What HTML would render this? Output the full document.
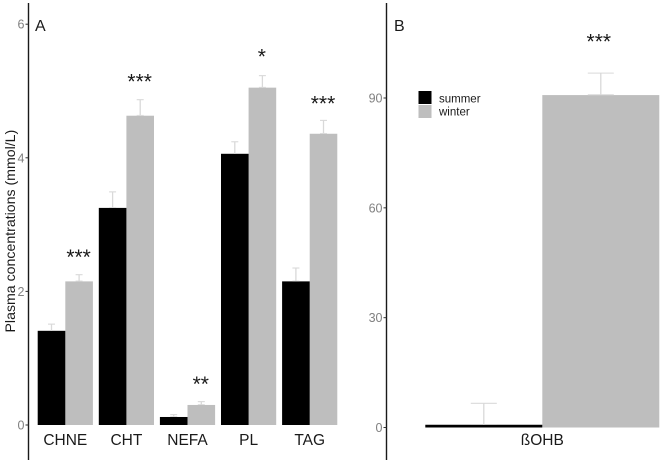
<!DOCTYPE html>
<html>
<head>
<meta charset="utf-8">
<style>
html,body{margin:0;padding:0;background:#fff;width:660px;height:462px;overflow:hidden}
svg{display:block;font-family:"Liberation Sans",sans-serif}
</style>
</head>
<body>
<svg id="chart" width="660" height="462" viewBox="0 0 660 462" xmlns="http://www.w3.org/2000/svg">
<text transform="translate(15,332.5) rotate(-90)" font-size="14.15" fill="#1a1a1a">Plasma concentrations (mmol/L)</text>
<text x="35" y="31" font-size="16" fill="#1a1a1a">A</text>
<text x="394" y="31" font-size="16" fill="#1a1a1a">B</text>
<rect x="418.5" y="91" width="13" height="13" fill="#000"/>
<rect x="418.5" y="105" width="13" height="13" fill="#bebebe"/>
<text x="439" y="102.5" font-size="11.5" fill="#1a1a1a">summer</text>
<text x="439" y="115.5" font-size="11.5" fill="#1a1a1a">winter</text>
</svg>
<script>
const categoriesA = ['CHNE', 'CHT', 'NEFA', 'PL', 'TAG'];
const summerA = [1.41, 3.25, 0.12, 4.06, 2.15];
const winterA = [2.15, 4.63, 0.30, 5.05, 4.36];
const summerErrA = [1.51, 3.49, 0.155, 4.24, 2.35];
const winterErrA = [2.25, 4.87, 0.35, 5.23, 4.56];
const sigA = ['***', '***', '**', '*', '***'];
const sigValueA = [2.545, 5.17, 0.645, 5.545, 4.84];
const ticksA = [0, 2, 4, 6];
const categoriesB = ['\u00dfOHB'];
const summerB = [0.75];
const winterB = [90.8];
const summerErrB = [6.6];
const winterErrB = [96.8];
const sigB = ['***'];
const sigValueB = [106];
const ticksB = [0, 30, 60, 90];

const svg = document.getElementById('chart');
const NS = 'http://www.w3.org/2000/svg';
function add(tag, attrs, text) {
  const el = document.createElementNS(NS, tag);
  for (const k in attrs) el.setAttribute(k, attrs[k]);
  if (text !== undefined) el.textContent = text;
  svg.insertBefore(el, svg.firstChild);
  return el;
}
function yA(v) { return 425 - v * 66.8; }
function yB(v) { return 427.5 - v * 3.661; }
function xA(i) { return 65.3 + i * 61.1; }
function xB(i) { return 542.3 + i * 234; }

function drawPanel(opts) {
  const { cats, summer, winter, errS, errW, sig, sigV, ticks, y, x, barW, capW, axisX, panel, labelSize } = opts;
  cats.forEach(function (c, i) {
    const cx = x(i);
    const base = y(0);
    [[summer[i], errS[i], cx - barW / 2, 'summer'], [winter[i], errW[i], cx + barW / 2, 'winter']].forEach(function (d) {
      const stem = add('line', { x1: d[2], x2: d[2], y1: y(d[0]), y2: y(d[1]), stroke: '#d9d9d9', 'stroke-width': 1.3 });
      
      
      const cap = add('line', { x1: d[2] - capW / 2, x2: d[2] + capW / 2, y1: y(d[1]), y2: y(d[1]), stroke: '#d9d9d9', 'stroke-width': 1.1 });
      
      
      const lowCap = add('line', { x1: d[2] - capW / 2, x2: d[2] + capW / 2, y1: y(d[0]) - 0.4, y2: y(d[0]) - 0.4, stroke: '#d9d9d9', 'stroke-width': 0.8 });
      
      
    });
    const s = add('rect', { x: cx - barW, y: y(summer[i]), width: barW, height: base - y(summer[i]), fill: '#000' });
    
    
    const w = add('rect', { x: cx, y: y(winter[i]), width: barW, height: base - y(winter[i]), fill: '#bebebe' });
    
    
    const lab = add('text', { x: cx, y: 445, 'text-anchor': 'middle', 'font-size': labelSize, fill: '#1a1a1a' }, c);
    
    
    const starX = panel === 'a' ? cx + barW / 2 - 0.5 : cx + barW / 2 - 2;
    const st = add('text', { x: starX, y: y(sigV[i]) + 9, 'text-anchor': 'middle', 'font-size': 21, fill: '#1a1a1a' }, sig[i]);
    
    
  });
  ticks.forEach(function (t) {
    const m = add('line', { x1: axisX - 3, x2: axisX, y1: y(t), y2: y(t), stroke: '#333', 'stroke-width': 1 });
    
    
    const l = add('text', { x: axisX - 4, y: y(t) + 4.5, 'text-anchor': 'end', 'font-size': 12.5, fill: '#808080' }, String(t));
    
    
  });
  const ax = add('line', { x1: axisX, x2: axisX, y1: 3, y2: 460, stroke: '#1a1a1a', 'stroke-width': 1.4 });
  
  
}

drawPanel({ cats: categoriesA, summer: summerA, winter: winterA, errS: summerErrA, errW: winterErrA, sig: sigA, sigV: sigValueA, ticks: ticksA, y: yA, x: xA, barW: 27.6, capW: 7, axisX: 28.5, panel: 'a', labelSize: 15.5 });
drawPanel({ cats: categoriesB, summer: summerB, winter: winterB, errS: summerErrB, errW: winterErrB, sig: sigB, sigV: sigValueB, ticks: ticksB, y: yB, x: xB, barW: 117, capW: 26, axisX: 386.5, panel: 'b', labelSize: 15.5 });
</script>
</body>
</html>
